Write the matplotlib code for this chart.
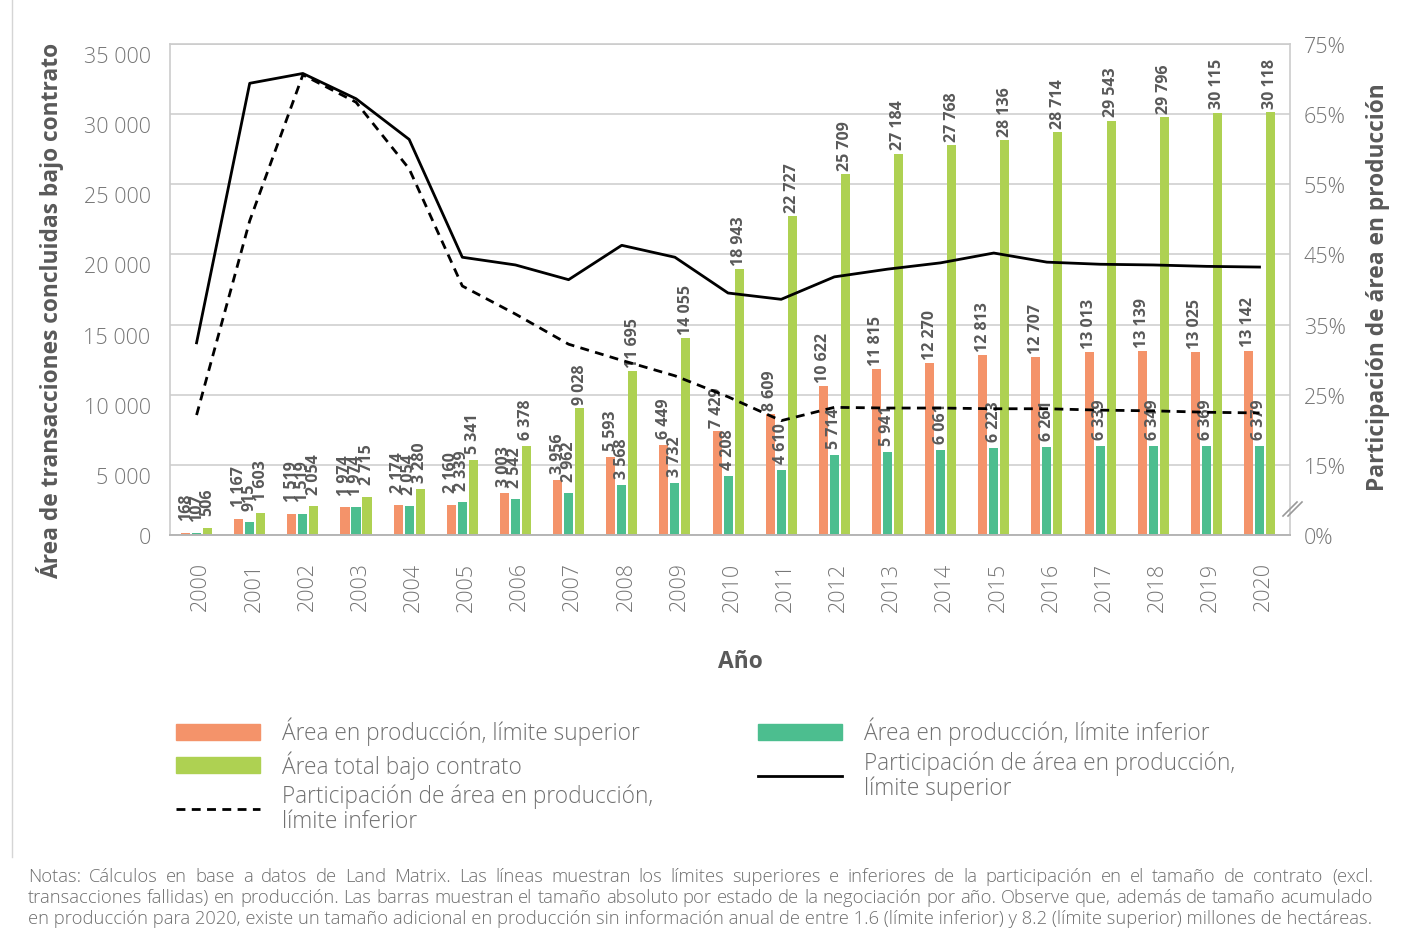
import numpy as np
import matplotlib
matplotlib.use('Agg')
import matplotlib.pyplot as plt
from matplotlib.patches import Patch
from matplotlib.lines import Line2D
from matplotlib import transforms

plt.rcParams['font.family'] = ['Open Sans', 'DejaVu Sans']

# datos (hectáreas y porcentajes)
years = list(range(2000, 2021))
area_sup = [168, 1167, 1519, 1974, 2174, 2160, 3003, 3956, 5593, 6449, 7429,
            8609, 10622, 11815, 12270, 12813, 12707, 13013, 13139, 13025, 13142]
area_inf = [107, 915, 1519, 1974, 2054, 2339, 2542, 2962, 3568, 3732, 4208,
            4610, 5714, 5941, 6061, 6223, 6261, 6339, 6349, 6369, 6379]
area_total = [506, 1603, 2054, 2715, 3280, 5341, 6378, 9028, 11695, 14055, 18943,
              22727, 25709, 27184, 27768, 28136, 28714, 29543, 29796, 30115, 30118]
part_sup = [32.4, 69.4, 70.8, 67.2, 61.4, 44.6, 43.5, 41.4, 46.3, 44.6, 39.5,
            38.6, 41.8, 42.9, 43.8, 45.2, 43.9, 43.6, 43.5, 43.3, 43.2]
part_inf = [22.1, 49.8, 70.6, 66.7, 57.2, 40.5, 36.5, 32.2, 29.9, 27.7, 24.7,
            21.3, 23.2, 23.1, 23.1, 23.0, 23.0, 22.8, 22.7, 22.5, 22.4]
pct_ticks = [5, 15, 25, 35, 45, 55, 65, 75]
pct_labels = ['0%', '15%', '25%', '35%', '45%', '55%', '65%', '75%']

c_sup = '#F4936A'
c_inf = '#4CBE8F'
c_tot = '#AED152'
gris_txt = '#767676'
gris_tit = '#595959'

W, H = 1405, 945
fig = plt.figure(figsize=(W / 100, H / 100), dpi=100)
ax = fig.add_axes([170 / W, 1 - 536 / H, (1290 - 170) / W, (536 - 45) / H])

x = np.array(years)
w = 0.17
off = 0.207
b1 = ax.bar(x - off, area_sup, w, color=c_sup, zorder=2)
b2 = ax.bar(x, area_inf, w, color=c_inf, zorder=2)
b3 = ax.bar(x + off, area_total, w, color=c_tot, zorder=2)

for bars, vals in [(b1, area_sup), (b2, area_inf), (b3, area_total)]:
    for r, v in zip(bars, vals):
        # en las barras bajas la etiqueta queda algo más separada
        sep = 9 if v < 3000 else (5 if v < 7000 else 3)
        ax.annotate(f'{v:,}'.replace(',', ' '),
                    (r.get_x() + r.get_width() / 2, r.get_height()),
                    xytext=(0, sep), textcoords='offset points',
                    rotation=90, ha='center', va='bottom',
                    fontsize=11.5, fontweight='bold', color=gris_tit, zorder=3)

ax.set_xlim(1999.5, 2020.574)
ax.set_ylim(0, 35000)
ax.set_yticks(range(0, 35001, 5000))
ax.set_yticklabels([f'{v:,}'.replace(',', ' ') for v in range(0, 35001, 5000)])
ax.set_xticks(x + 0.08)
ax.set_xticklabels([str(y) for y in years], rotation=90)
ax.tick_params(axis='both', length=0, labelsize=15.5, labelcolor=gris_txt)
ax.tick_params(axis='x', pad=19)
ax.tick_params(axis='y', pad=14)
for lab in ax.get_xticklabels() + ax.get_yticklabels():
    lab.set_fontweight('light')

# etiquetas del eje izquierdo algo por debajo de la línea de la rejilla
shift = transforms.ScaledTranslation(0, -10 / 100, fig.dpi_scale_trans)
for t in ax.yaxis.get_major_ticks()[1:]:
    t.label1.set_transform(t.label1.get_transform() + shift)

ax.grid(axis='y', color='#d0d0d0', lw=1.2, zorder=0)
for s in ['left', 'top', 'right']:
    ax.spines[s].set_color('#cccccc')
    ax.spines[s].set_linewidth(1.2)
ax.spines['bottom'].set_color('#b5b5b5')
ax.spines['bottom'].set_linewidth(1.4)

ax2 = ax.twinx()
ax2.plot(x, part_sup, color='black', lw=2.0, zorder=4)
ax2.plot(x, part_inf, color='black', lw=2.0, ls=(0, (3.2, 2.3)), zorder=4)
ax2.set_ylim(5, 75)
ax2.set_yticks(pct_ticks)
ax2.set_yticklabels(pct_labels)
ax2.tick_params(axis='y', length=0, labelsize=15.5, labelcolor=gris_txt, pad=10)
for lab in ax2.get_yticklabels():
    lab.set_fontweight('light')
for s in ax2.spines.values():
    s.set_visible(False)

# marcas de corte del eje derecho
for dx in (0, 5):
    fig.add_artist(Line2D([(1283 + dx) / W, (1297 + dx) / W],
                          [1 - 517 / H, 1 - 503 / H],
                          color='#999999', lw=1.2, transform=fig.transFigure))

fig.text(50 / W, 1 - 311 / H, 'Área de transacciones concluidas bajo contrato',
         rotation=90, ha='center', va='center', fontsize=16.4,
         fontweight='bold', color=gris_tit)
fig.text(1378 / W, 1 - 287 / H, 'Participación de área en producción',
         rotation=90, ha='center', va='center', fontsize=16.4,
         fontweight='bold', color=gris_tit)
fig.text(740 / W, 1 - 662 / H, 'Año', ha='center', va='center',
         fontsize=16.4, fontweight='bold', color=gris_tit)

# leyenda en dos bloques
h_sup = Patch(color=c_sup)
h_inf = Patch(color=c_inf)
h_tot = Patch(color=c_tot)
h_lsup = Line2D([], [], color='black', lw=2.0)
h_linf = Line2D([], [], color='black', lw=2.0, ls=(0, (3.2, 2.3)))
leg_kw = dict(loc='upper left', frameon=False, fontsize=16.3, borderpad=0,
              borderaxespad=0, handlelength=3.7, handleheight=0.7,
              handletextpad=1.0, labelspacing=0.21, labelcolor='#707070')
leg1 = fig.legend([h_sup, h_tot, h_linf],
                  ['Área en producción, límite superior',
                   'Área total bajo contrato',
                   'Participación de área en producción,\nlímite inferior'],
                  bbox_to_anchor=(176 / W, 1 - 718 / H), **leg_kw)
leg2 = fig.legend([h_inf, h_lsup],
                  ['Área en producción, límite inferior',
                   'Participación de área en producción,\nlímite superior'],
                  bbox_to_anchor=(758 / W, 1 - 718 / H), **leg_kw)
for leg in (leg1, leg2):
    for t in leg.get_texts():
        t.set_fontweight('light')
        t.set_linespacing(1.05)

# línea fina en el borde izquierdo
fig.add_artist(Line2D([12 / W, 12 / W], [1, 1 - 858 / H], color='#d5d5d5',
                      lw=1.0, transform=fig.transFigure))

# notas justificadas
notas = [
    'Notas: Cálculos en base a datos de Land Matrix. Las líneas muestran los límites superiores e inferiores de la participación en el tamaño de contrato (excl.',
    'transacciones fallidas) en producción. Las barras muestran el tamaño absoluto por estado de la negociación por año. Observe que, además de tamaño acumulado',
    'en producción para 2020, existe un tamaño adicional en producción sin información anual de entre 1.6 (límite inferior) y 8.2 (límite superior) millones de hectáreas.',
]
x0, x1 = 28, 1373
fs_n = 13.25
renderer = fig.canvas.get_renderer()
for i, linea in enumerate(notas):
    yy = 1 - (877 + 21 * i) / H
    if i == len(notas) - 1:
        fig.text(x0 / W, yy, linea, ha='left', va='center', fontsize=fs_n,
                 color='#6e6e6e', fontweight='light')
        continue
    palabras = linea.split(' ')
    arts = [fig.text(0, yy, p, ha='left', va='center', fontsize=fs_n,
                     color='#6e6e6e', fontweight='light') for p in palabras]
    anchos = [a.get_window_extent(renderer).width for a in arts]
    hueco = (x1 - x0 - sum(anchos)) / (len(palabras) - 1)
    pos = x0
    for a, aw in zip(arts, anchos):
        a.set_x(pos / W)
        pos += aw + hueco

fig.savefig('out.png', dpi=100)
